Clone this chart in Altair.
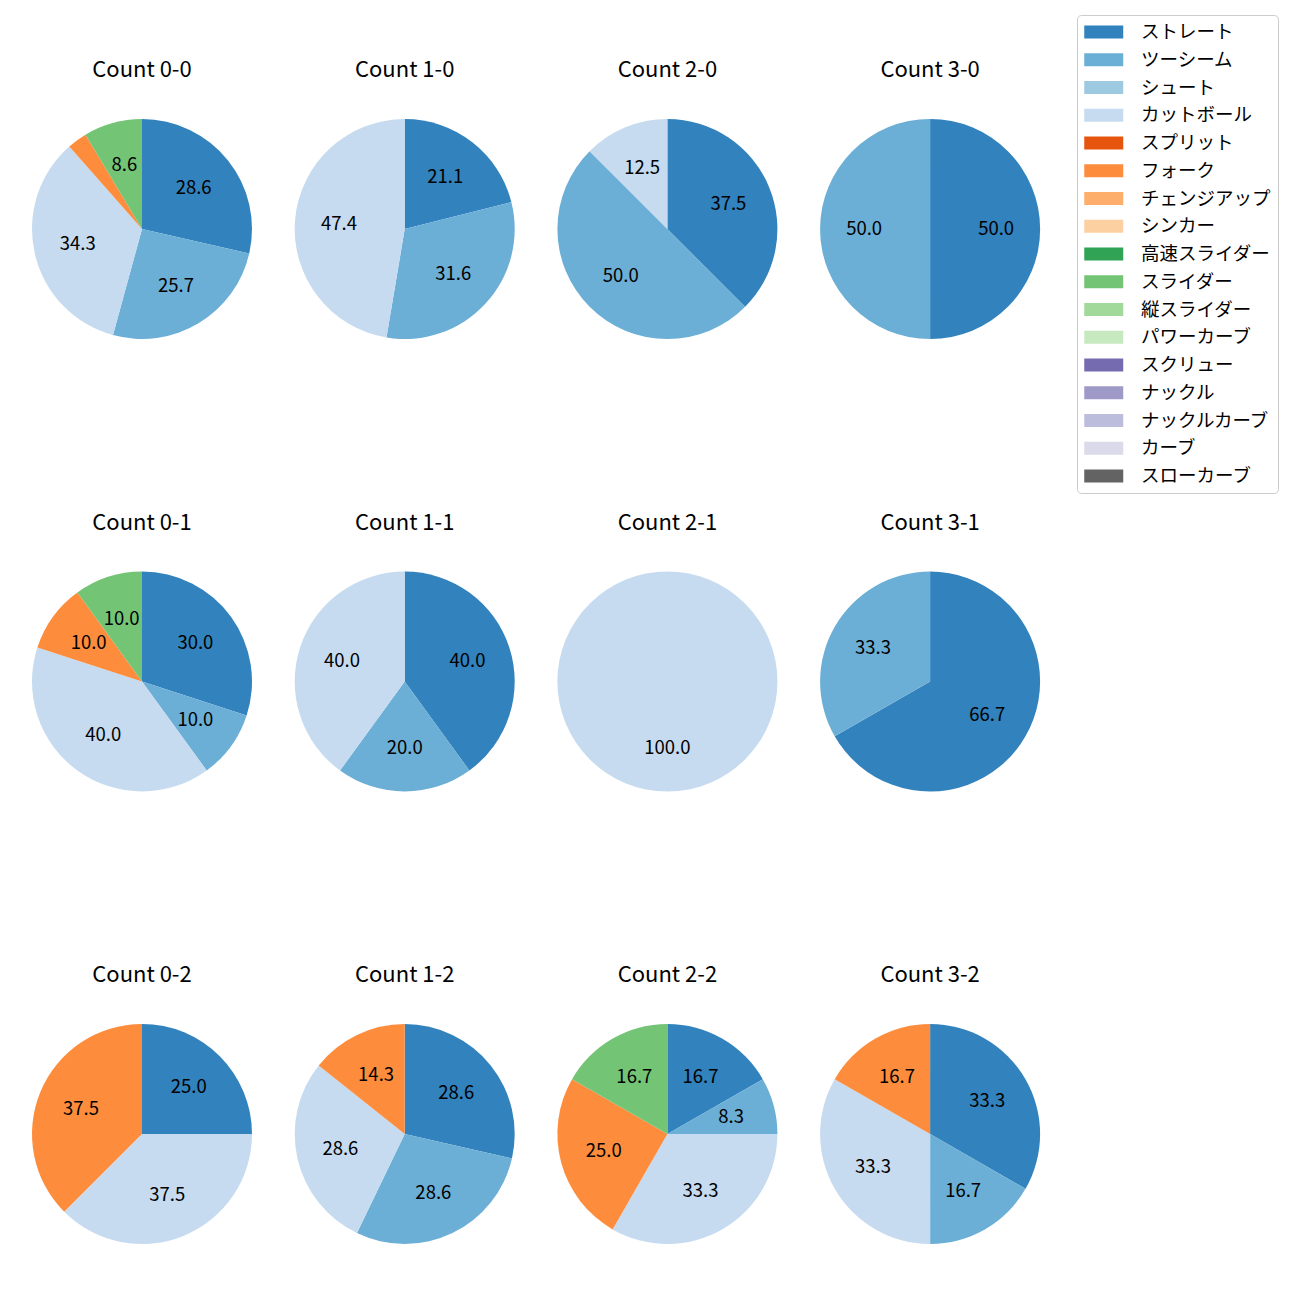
import altair as alt
import pandas as pd

pitch_types = ["ストレート", "ツーシーム", "シュート", "カットボール", "スプリット", "フォーク",
               "チェンジアップ", "シンカー", "高速スライダー", "スライダー", "縦スライダー",
               "パワーカーブ", "スクリュー", "ナックル", "ナックルカーブ", "カーブ", "スローカーブ"]
palette = ["#3182bd", "#6baed6", "#9ecae1", "#c6dbef", "#e6550d", "#fd8d3c", "#fdae6b", "#fdd0a2",
           "#31a354", "#74c476", "#a1d99b", "#c7e9c0", "#756bb1", "#9e9ac8", "#bcbddc", "#dadaeb",
           "#636363"]

counts = ["0-0", "1-0", "2-0", "3-0", "0-1", "1-1", "2-1", "3-1", "0-2", "1-2", "2-2", "3-2"]

pitches_by_count = {
    "0-0": ["ストレート", "ツーシーム", "カットボール", "フォーク", "スライダー"],
    "1-0": ["ストレート", "ツーシーム", "カットボール"],
    "2-0": ["ストレート", "ツーシーム", "カットボール"],
    "3-0": ["ストレート", "ツーシーム"],
    "0-1": ["ストレート", "ツーシーム", "カットボール", "フォーク", "スライダー"],
    "1-1": ["ストレート", "ツーシーム", "カットボール"],
    "2-1": ["カットボール"],
    "3-1": ["ストレート", "ツーシーム"],
    "0-2": ["ストレート", "カットボール", "フォーク"],
    "1-2": ["ストレート", "ツーシーム", "カットボール", "フォーク"],
    "2-2": ["ストレート", "ツーシーム", "カットボール", "フォーク", "スライダー"],
    "3-2": ["ストレート", "ツーシーム", "カットボール", "フォーク"],
}
pct_by_count = {
    "0-0": [28.6, 25.7, 34.3, 2.9, 8.6],
    "1-0": [21.1, 31.6, 47.4],
    "2-0": [37.5, 50.0, 12.5],
    "3-0": [50.0, 50.0],
    "0-1": [30.0, 10.0, 40.0, 10.0, 10.0],
    "1-1": [40.0, 20.0, 40.0],
    "2-1": [100.0],
    "3-1": [66.7, 33.3],
    "0-2": [25.0, 37.5, 37.5],
    "1-2": [28.6, 28.6, 28.6, 14.3],
    "2-2": [16.7, 8.3, 33.3, 25.0, 16.7],
    "3-2": [33.3, 16.7, 33.3, 16.7],
}

rows = []
for c in counts:
    for p, v in zip(pitches_by_count[c], pct_by_count[c]):
        rows.append({"count": c, "pitch": p, "idx": pitch_types.index(p), "pct": v,
                     "label": f"{v:.1f}" if v >= 5 else ""})
df = pd.DataFrame(rows)

FONT = "Noto Sans CJK JP"
color_scale = alt.Scale(domain=pitch_types, range=palette)


def pie(c):
    base = alt.Chart(df[df["count"] == c]).encode(
        theta=alt.Theta("pct:Q", stack=True),
        order=alt.Order("idx:Q", sort="ascending"),
    )
    arcs = base.mark_arc(outerRadius=110).encode(
        color=alt.Color("pitch:N", scale=color_scale, title=None,
                        legend=alt.Legend(orient="none", legendX=1045, legendY=-104,
                                          symbolType="M-1,-0.66H3V0.66H-1Z", symbolSize=380,
                                          labelFont=FONT, labelFontSize=18.5, labelColor="#000000",
                                          labelOffset=37, rowPadding=7.75, padding=7,
                                          strokeColor="#cccccc", cornerRadius=4,
                                          fillColor="#ffffff", symbolStrokeWidth=0,
                                          values=pitch_types)),
    )
    text = base.mark_text(radius=66, fontSize=18.5, font=FONT).encode(
        text="label:N", color=alt.value("#000000"))
    return (arcs + text).properties(
        width=220, height=220,
        title=alt.TitleParams(f"Count {c}", font=FONT, fontSize=22, fontWeight="normal",
                              color="#000000", offset=37),
    )


grid = alt.vconcat(
    *[alt.hconcat(*[pie(c) for c in counts[r * 4:(r + 1) * 4]], spacing=42.7) for r in range(3)],
    spacing=172.5,
).properties(padding={"left": 32, "top": 14, "right": 5, "bottom": 5}).configure_view(stroke=None)

chart = grid
chart.save("out.html", embed_options={"renderer": "svg", "actions": False})
